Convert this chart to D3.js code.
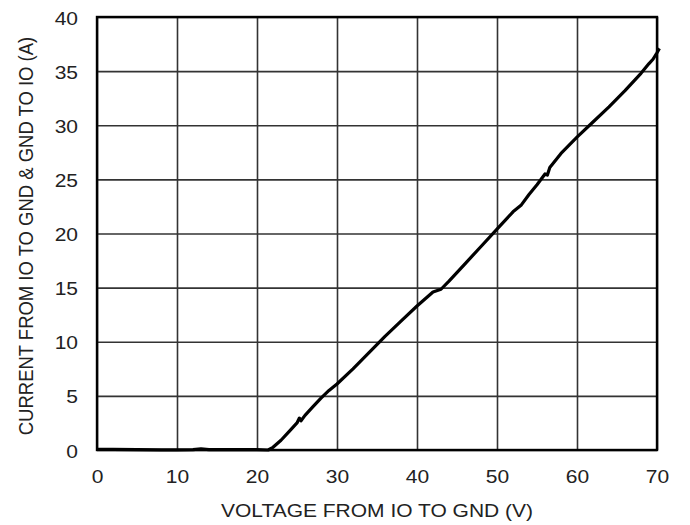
<!DOCTYPE html>
<html><head><meta charset="utf-8">
<script src="https://cdn.jsdelivr.net/npm/d3@7"></script>
<style>body{margin:0;background:#fff}svg{display:block}</style>
</head><body>
<svg id="c" width="690" height="525"></svg>
<script>
const voltage = [0,2,5,8,10,12,13,14,16,20,21.4,22,23,24,25,25.3,25.5,26,27,28,29,30,32,34,36,38,40,42,43,44,46,48,50,52,53,54,55,56,56.3,56.6,58,60,62,64,66,68,69,69.5,70,70.3];
const current = [0.05,0.06,0.03,0.02,0.02,0.03,0.1,0.04,0.03,0.03,0,0.25,0.9,1.7,2.5,2.95,2.7,3.2,4.0,4.8,5.5,6.1,7.5,9.0,10.5,11.9,13.3,14.6,14.85,15.6,17.2,18.8,20.4,22.0,22.6,23.6,24.5,25.5,25.4,26.1,27.4,28.9,30.3,31.7,33.2,34.8,35.7,36.1,36.7,37.1];
const xTicks = [0,10,20,30,40,50,60,70];
const yTicks = [0,5,10,15,20,25,30,35,40];
const xTitle = "VOLTAGE FROM IO TO GND (V)";
const yTitle = "CURRENT FROM IO TO GND & GND TO IO (A)";

const svg = d3.select("#c");
const L=97, R=657, T=17, B=450;
const x = d3.scaleLinear().domain([0,70]).range([L,R]);
const y = d3.scaleLinear().domain([0,40]).range([B,T]);
const font = "'Liberation Sans', Arial, sans-serif";
const FS = 21, SQ = 0.88;

// grid
svg.append("g").attr("transform",`translate(0,${B})`)
  .call(d3.axisBottom(x).tickValues(xTicks).tickSize(-(B-T)).tickFormat(""))
  .call(g=>{g.select(".domain").remove(); g.selectAll("line").attr("stroke","#333").attr("stroke-width",1.6);});
svg.append("g").attr("transform",`translate(${L},0)`)
  .call(d3.axisLeft(y).tickValues(yTicks).tickSize(-(R-L)).tickFormat(""))
  .call(g=>{g.select(".domain").remove(); g.selectAll("line").attr("stroke","#333").attr("stroke-width",1.6);});

// tick labels
svg.append("g").attr("transform",`translate(0,${B})`)
  .call(d3.axisBottom(x).tickValues(xTicks).tickSize(0).tickFormat(d3.format("d")))
  .call(g=>{g.select(".domain").remove();
    g.selectAll("text").attr("font-family",font).attr("font-size",FS).attr("fill","#222")
      .attr("y",0).attr("dy",null).attr("transform",`translate(0,33) scale(1,${SQ})`);});
svg.append("g").attr("transform",`translate(${L},0)`)
  .call(d3.axisLeft(y).tickValues(yTicks).tickSize(0).tickFormat(d3.format("d")))
  .call(g=>{g.select(".domain").remove();
    g.selectAll("text").attr("font-family",font).attr("font-size",FS).attr("fill","#222")
      .attr("x",0).attr("dy",null).attr("y",0).attr("dominant-baseline","central")
      .attr("transform",`translate(-19,0.5) scale(1,${SQ})`);});

// border
svg.append("rect").attr("x",L).attr("y",T).attr("width",R-L).attr("height",B-T)
  .attr("fill","none").attr("stroke","#000").attr("stroke-width",2.4);

// line
const pts = voltage.map((v,i)=>[v,current[i]]);
svg.append("path").datum(pts)
  .attr("d", d3.line().x(d=>x(d[0])).y(d=>y(d[1])))
  .attr("fill","none").attr("stroke","#000").attr("stroke-width",3.2).attr("stroke-linejoin","round");

// titles
svg.append("text").attr("transform",`translate(${(L+R)/2},517) scale(1,${SQ})`).attr("text-anchor","middle")
  .attr("font-family",font).attr("font-size",FS).attr("fill","#222").text(xTitle);
svg.append("text").attr("transform",`translate(33,236) rotate(-90) scale(${SQ},1)`).attr("text-anchor","middle")
  .attr("font-family",font).attr("font-size",FS).attr("fill","#222").text(yTitle);
</script>
</body></html>
